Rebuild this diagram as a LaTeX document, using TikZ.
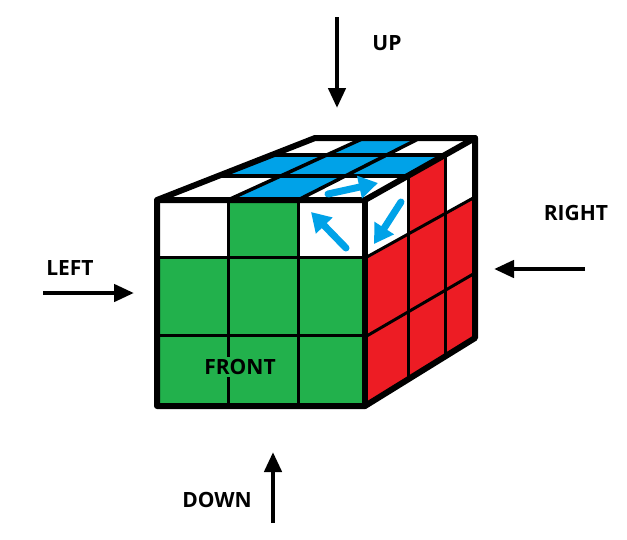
\documentclass[tikz,border=0pt]{standalone}
\usepackage{fontspec}
\setmainfont{Open Sans}
\usetikzlibrary{arrows.meta}
\definecolor{cgreen}{RGB}{34,177,76}
\definecolor{cred}{RGB}{237,28,36}
\definecolor{cblue}{RGB}{0,162,232}
\begin{document}
\begin{tikzpicture}[x=1pt,y=-1pt,
  lbl/.style={font=\bfseries\fontsize{21}{25}\selectfont, inner sep=0pt, text=black},
  bigarrow/.style={line width=4.5pt, -{Triangle[width=17pt,length=20pt]}},
  turn/.style={draw=cblue, line width=7pt, line cap=round, -{Triangle[width=22pt,length=19pt]}},
  gridline/.style={line width=3pt, line cap=round},
  edge/.style={line width=6pt, line join=round, line cap=round}]
\useasboundingbox (0,0) rectangle (627,539);
\fill[white] (0,0) rectangle (627,539);
% front face
\fill[cgreen] (157,200) rectangle (365,406);
\fill[white] (157,200) rectangle (228,257);
\fill[white] (298,200) rectangle (365,257);
% right face
\fill[cred] (365,200) -- (475,138) -- (475,338) -- (365,406) -- cycle;
\fill[white] (365,200) -- (408,175.8) -- (408,234.2) -- (365,258) -- cycle;
\fill[white] (445,154.9) -- (475,138) -- (475,197) -- (445,213.6) -- cycle;
% top face
\fill[white] (157,200) -- (315,138) -- (475,138) -- (365,200) -- cycle;
\fill[cblue] (218.1,176) -- (271.7,155) -- (444.9,155) -- (407.6,176) -- cycle;
\fill[cblue] (228,200) -- (280.6,176) -- (345.2,176) -- (298,200) -- cycle;
\fill[cblue] (326.7,155) -- (364,138) -- (420,138) -- (386.6,155) -- cycle;
% grid lines
\draw[gridline] (228,200) -- (228,406);
\draw[gridline] (298,200) -- (298,406);
\draw[gridline] (157,257) -- (365,257);
\draw[gridline] (157,335) -- (365,335);
\draw[gridline] (408,175.8) -- (408,379.4);
\draw[gridline] (445,154.9) -- (445,356.5);
\draw[gridline] (365,258) -- (475,197);
\draw[gridline] (365,337) -- (475,273);
\draw[gridline, line width=3.5pt] (218.1,176) -- (407.6,176);
\draw[gridline, line width=3.5pt] (271.7,155) -- (444.9,155);
\draw[gridline, line width=3.5pt] (228,200) -- (364,138);
\draw[gridline, line width=3.5pt] (298,200) -- (420,138);
% outline
\draw[edge] (157,200) -- (315,138) -- (475,138) -- (475,338) -- (365,406) -- (157,406) -- cycle;
\draw[edge] (157,200) -- (365,200) -- (475,138);
\draw[edge] (365,200) -- (365,406);
% rotation arrows on the corner
\coordinate (tA) at (328,194); \coordinate (tB) at (378,183);
\coordinate (fA) at (346,248); \coordinate (fB) at (311,212);
\coordinate (rA) at (401,202); \coordinate (rB) at (374,244);
\draw[turn] (tA) -- (tB);
\draw[turn] (fA) -- (fB);
\draw[turn] (rA) -- (rB);
% labels
\node[lbl, fill=cgreen, inner sep=2pt] (front) at (240,367) {FRONT};
\node[lbl] (up) at (387,43) {UP};
\node[lbl] (right) at (576,213) {RIGHT};
\node[lbl] (left) at (70,268) {LEFT};
\node[lbl] (down) at (217,500) {DOWN};
% direction arrows
\coordinate (upA) at (337,17); \coordinate (upB) at (337,108);
\coordinate (rgA) at (585,269); \coordinate (rgB) at (494,269);
\coordinate (lfA) at (43,293); \coordinate (lfB) at (134,293);
\coordinate (dnA) at (273,523); \coordinate (dnB) at (273,452);
\draw[bigarrow] (upA) -- (upB);
\draw[bigarrow] (rgA) -- (rgB);
\draw[bigarrow] (lfA) -- (lfB);
\draw[bigarrow] (dnA) -- (dnB);
\end{tikzpicture}
\end{document}
